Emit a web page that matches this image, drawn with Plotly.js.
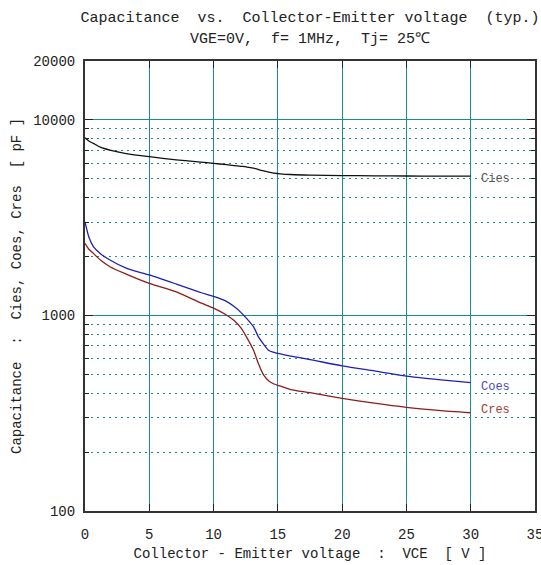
<!DOCTYPE html>
<html>
<head>
<meta charset="utf-8">
<script src="https://cdn.plot.ly/plotly-3.0.1.min.js"></script>
<style>html,body{margin:0;padding:0;background:#fff;}</style>
</head>
<body>
<div id="chart" style="width:541px;height:565px;"></div>
<script>
// Collector-Emitter voltage VCE [V]
const vce = [0, 0.3, 0.65, 1.2, 1.94, 3.2, 5, 7.1, 9, 10, 11, 11.6, 12.1, 12.6, 13.1, 13.5, 13.9, 14.3, 14.7, 15.2, 16, 17.5, 20, 22.5, 25, 27.5, 30];
// Capacitances [pF]
const cies = [8100, 7800, 7580, 7250, 7000, 6720, 6480, 6250, 6080, 5990, 5900, 5840, 5790, 5740, 5660, 5570, 5480, 5400, 5345, 5300, 5255, 5215, 5190, 5175, 5165, 5160, 5160];
const coes = [3010, 2520, 2250, 2070, 1920, 1745, 1610, 1447, 1310, 1250, 1180, 1110, 1040, 960, 876, 775, 712, 662, 648, 636, 620, 595, 552, 520, 490, 470, 453];
const cres = [2340, 2180, 2077, 1920, 1775, 1628, 1460, 1321, 1160, 1090, 1005, 942, 868, 768, 665, 565, 495, 462, 446, 435, 418, 403, 377, 356, 339, 327, 318];

const seriesNames = ["Cies", "Coes", "Cres"];
const yTickVals = [100, 1000, 10000, 20000];
const yTickText = ["100", "1000", "10000", "20000"];
const yMinorVals = [200, 300, 400, 500, 600, 700, 800, 900, 2000, 3000, 4000, 5000, 6000, 7000, 8000, 9000];

const NB = "\u00a0";
const sp = s => s.replace(/ /g, NB);

const FONT = "Liberation Mono, Courier New, monospace";
const colors = ["#111111", "#1f1fb8", "#8e1c1c"];
const labelColors = ["#555555", "#4848c8", "#a33a3a"];
const labelShift = [-3, -4, 3];
const data = [cies, coes, cres];

const traces = data.map((ys, i) => ({
  x: vce, y: ys, type: "scatter", mode: "lines", name: seriesNames[i],
  line: {color: colors[i], width: 1.3, shape: "spline", smoothing: 0.7},
  hoverinfo: "skip"
}));

const annotations = data.map((ys, i) => ({
  x: vce[vce.length - 1], y: Math.log10(ys[ys.length - 1]), xref: "x", yref: "y",
  text: seriesNames[i], showarrow: false, xanchor: "left", yanchor: "middle",
  xshift: 8, yshift: labelShift[i],
  font: {family: FONT, size: 12, color: labelColors[i]}
}));
annotations.push({
  x: 0.5, y: 1.047, xref: "paper", yref: "paper", showarrow: false,
  xanchor: "center", yanchor: "middle",
  text: sp("VGE=0V,  f= 1MHz,  Tj= 25℃"),
  font: {family: FONT, size: 15, color: "#222"}
});

const GRID = "#1f8c8c";
const layout = {
  width: 541, height: 565,
  margin: {l: 85, r: 6, t: 61, b: 54},
  paper_bgcolor: "#ffffff", plot_bgcolor: "#ffffff",
  showlegend: false,
  font: {family: FONT, size: 14, color: "#222"},
  title: {
    text: sp("Capacitance  vs.  Collector-Emitter voltage  (typ.)"),
    x: 0.5, xref: "paper", xanchor: "center",
    y: 1 - 17 / 565, yref: "container", yanchor: "middle",
    font: {family: FONT, size: 15, color: "#222"}
  },
  xaxis: {
    range: [0, 35], dtick: 5, tick0: 0,
    showgrid: true, gridcolor: GRID, gridwidth: 1,
    zeroline: false,
    showline: true, linecolor: "#333", linewidth: 2, mirror: "allticks",
    ticks: "inside", ticklen: 7, tickcolor: "#222", tickwidth: 1,
    ticklabelstandoff: 9, ticklabeloverflow: "allow",
    tickfont: {family: FONT, size: 14, color: "#222"},
    title: {text: sp("Collector - Emitter voltage  :  VCE  [ V ]"), standoff: 6,
            font: {family: FONT, size: 14, color: "#222"}}
  },
  yaxis: {
    type: "log", range: [2, Math.log10(20000)],
    tickmode: "array", tickvals: yTickVals, ticktext: yTickText,
    showgrid: true, gridcolor: GRID, gridwidth: 1,
    zeroline: false,
    showline: true, linecolor: "#333", linewidth: 2, mirror: "allticks",
    ticks: "inside", ticklen: 8, tickcolor: "#222", tickwidth: 1,
    ticklabelstandoff: 5,
    tickfont: {family: FONT, size: 14, color: "#222"},
    minor: {
      tickmode: "array", tickvals: yMinorVals,
      ticks: "inside", ticklen: 4, tickcolor: "#222", tickwidth: 1,
      showgrid: true, gridcolor: GRID, gridwidth: 1, griddash: "2px,4px"
    },
    title: {text: sp("Capacitance  :  Cies, Coes, Cres  [ pF ]"), standoff: 8,
            font: {family: FONT, size: 14, color: "#222"}}
  },
  annotations: annotations
};

Plotly.newPlot("chart", traces, layout, {staticPlot: true, displayModeBar: false});
</script>
</body>
</html>
